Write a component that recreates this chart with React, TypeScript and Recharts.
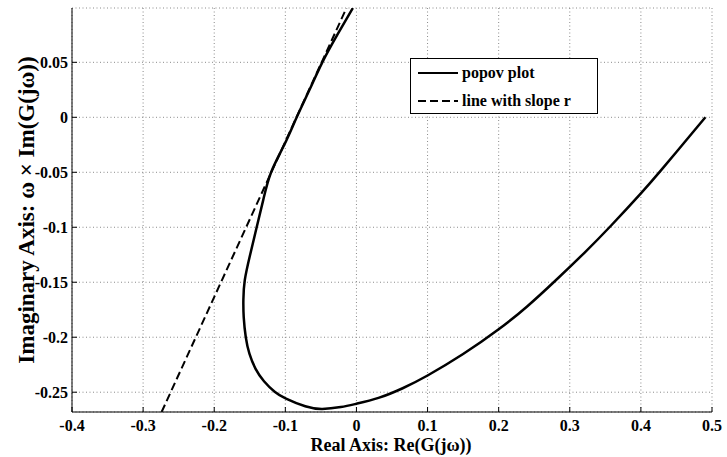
import React from "react"
import { LineChart, Line, XAxis, YAxis, CartesianGrid, Legend, Label } from "recharts"

const xTicks = [-0.4, -0.3, -0.2, -0.1, 0, 0.1, 0.2, 0.3, 0.4, 0.5]
const yTicks = [-0.25, -0.2, -0.15, -0.1, -0.05, 0, 0.05]
const seriesNames = ["popov plot", "line with slope r"]

// popov plot: Re(G(jw)) against w*Im(G(jw)), starting at w = 0
const popovRe = [
  0.4907, 0.4605, 0.4279, 0.4, 0.3582, 0.3209, 0.28, 0.24, 0.2, 0.15, 0.1, 0.065, 0.031, 0.0,
  -0.022, -0.048, -0.072, -0.099, -0.115, -0.13, -0.142, -0.1505, -0.1556, -0.1585, -0.159,
  -0.157, -0.1495, -0.1403, -0.131, -0.12, -0.1015, -0.084, -0.066, -0.048, -0.027, -0.005,
]
const popovIm = [
  0, -0.0234, -0.0485, -0.0692, -0.0984, -0.123, -0.1484, -0.172, -0.1928, -0.2153, -0.2348,
  -0.2464, -0.2552, -0.2605, -0.2635, -0.2652, -0.2628, -0.2558, -0.2495, -0.24, -0.2285,
  -0.215, -0.2, -0.182, -0.166, -0.148, -0.125, -0.1, -0.075, -0.05, -0.025, 0, 0.025, 0.05,
  0.075, 0.0994,
]

// line with slope r
const slopeRe = [-0.274, -0.014]
const slopeIm = [-0.268, 0.0994]

const popovData = popovRe.map((x, i) => ({ x, y: popovIm[i] }))
const slopeData = slopeRe.map((x, i) => ({ x, y: slopeIm[i] }))

const serif = '"Liberation Serif", "Times New Roman", serif'
const fmt = (v: number) => String(Number(v.toFixed(2)))

const tickStyle = { fontFamily: serif, fontSize: 16, fontWeight: 700, fill: "#000" }

function PopovLegend(props: any) {
  const items = [...(props.payload || [])].sort(
    (a: any, b: any) => seriesNames.indexOf(a.value) - seriesNames.indexOf(b.value)
  )
  return (
    <svg width={188} height={56} style={{ display: "block" }}>
      <rect x={0.5} y={0.5} width={187} height={55} fill="#fff" stroke="#000" />
      {items.map((entry: any, i: number) => {
        const cy = 15 + i * 28
        return (
          <g key={entry.value}>
            <line
              x1={8}
              x2={48}
              y1={cy}
              y2={cy}
              stroke="#000"
              strokeWidth={2.2}
              strokeDasharray={entry.payload?.strokeDasharray}
            />
            <text x={52} y={cy + 5} fontFamily={serif} fontSize={16} fontWeight={700} fill="#000">
              {entry.value}
            </text>
          </g>
        )
      })}
    </svg>
  )
}

const yTitle = () => (
  <text
    transform="translate(26,210) rotate(-90)"
    textAnchor="middle"
    dominantBaseline="central"
    fontFamily={serif}
    fontSize={23}
    fontWeight={700}
    fill="#000"
  >
    Imaginary Axis: ω × Im(G(jω))
  </text>
)

const xTitle = () => (
  <text x={391} y={451} textAnchor="middle" fontFamily={serif} fontSize={18} fontWeight={700} fill="#000">
    Real Axis: Re(G(jω))
  </text>
)

export default function App() {
  return (
    <div style={{ position: "absolute", left: 0, top: 0, background: "#fff" }}>
      <LineChart width={727} height={457} margin={{ top: 8, right: 15, bottom: 0, left: 0 }}>
        <CartesianGrid stroke="#8a8a8a" strokeDasharray="1 2.5" />
        <XAxis
          dataKey="x"
          type="number"
          domain={[-0.4, 0.5]}
          ticks={xTicks}
          interval={0}
          allowDataOverflow
          tickFormatter={fmt}
          height={45}
          tickSize={-5}
          tickMargin={13}
          tick={tickStyle}
          stroke="#000"
          tickLine={{ stroke: "#000" }}
        >
          <Label content={xTitle} />
        </XAxis>
        <XAxis
          xAxisId="top"
          orientation="top"
          type="number"
          domain={[-0.4, 0.5]}
          ticks={xTicks}
          allowDataOverflow
          height={0}
          tickSize={-5}
          tick={false}
          stroke="#000"
        />
        <YAxis
          dataKey="y"
          type="number"
          domain={[-0.268, 0.0994]}
          ticks={yTicks}
          interval={0}
          allowDataOverflow
          tickFormatter={fmt}
          width={72}
          tickSize={-5}
          tickMargin={9}
          tick={tickStyle}
          stroke="#000"
        >
          <Label content={yTitle} />
        </YAxis>
        <YAxis
          yAxisId="right"
          orientation="right"
          type="number"
          domain={[-0.268, 0.0994]}
          ticks={yTicks}
          allowDataOverflow
          width={0}
          tickSize={-5}
          tick={false}
          stroke="#000"
        />
        <Legend
          layout="vertical"
          align="center"
          verticalAlign="middle"
          wrapperStyle={{ left: 410, top: 58, width: 188, height: 56 }}
          content={PopovLegend}
        />
        <Line
          data={popovData}
          dataKey="y"
          name="popov plot"
          type="natural"
          stroke="#000"
          strokeWidth={2.5}
          dot={false}
          activeDot={false}
          isAnimationActive={false}
        />
        <Line
          data={slopeData}
          dataKey="y"
          name="line with slope r"
          stroke="#000"
          strokeWidth={2}
          strokeDasharray="8 4"
          dot={false}
          activeDot={false}
          isAnimationActive={false}
        />
      </LineChart>
    </div>
  )
}
